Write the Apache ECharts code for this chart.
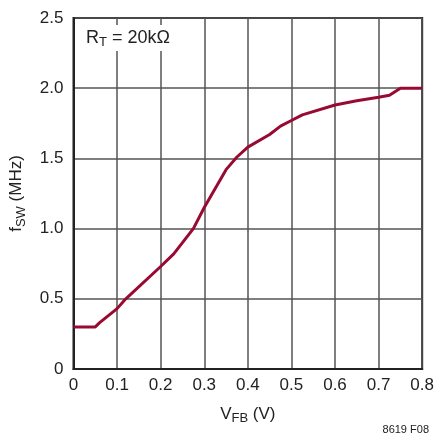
<!DOCTYPE html>
<html>
<head>
<meta charset="utf-8">
<script src="https://cdn.jsdelivr.net/npm/echarts@6/dist/echarts.min.js"></script>
<style>
  html, body { margin: 0; padding: 0; background: #fff; }
  #chart { width: 437px; height: 436px; }
</style>
</head>
<body>
<div id="chart"></div>
<script>
// VFB (V) vs fSW (MHz), RT = 20k
var vfb = [0, 0.05, 0.06, 0.1, 0.12, 0.2, 0.23, 0.275, 0.3, 0.35, 0.375, 0.4, 0.45, 0.475, 0.5, 0.525, 0.6, 0.65, 0.7, 0.725, 0.75, 0.8];
var fsw = [0.3, 0.3, 0.33, 0.43, 0.5, 0.73, 0.82, 1.0, 1.15, 1.42, 1.51, 1.58, 1.67, 1.73, 1.77, 1.81, 1.88, 1.91, 1.935, 1.95, 2.0, 2.0];
var xTicks = ["0", "0.1", "0.2", "0.3", "0.4", "0.5", "0.6", "0.7", "0.8"];
var yTicks = ["0", "0.5", "1.0", "1.5", "2.0", "2.5"];

var font = "Liberation Sans Narrow, Liberation Sans, sans-serif";
var txt = "#222";

var pts = vfb.map(function (v, i) { return [v, fsw[i]]; });

var myChart = echarts.init(document.getElementById("chart"));
var option = {
  animation: false,
  textStyle: { fontFamily: font },
  grid: {
    left: 72,
    top: 18,
    right: 14,
    bottom: 67,
    show: true,
    borderColor: "#222",
    borderWidth: 2,
  },
  xAxis: {
    type: "value",
    min: 0,
    max: 0.8,
    interval: 0.1,
    name: "{a|V}{s|FB}{a| (V)}",
    nameLocation: "middle",
    nameGap: 34,
    nameTextStyle: {
      rich: {
        a: { fontFamily: font, fontSize: 17, color: txt },
        s: { fontFamily: font, fontSize: 13, color: txt, padding: [9, 0, 0, 0] },
      },
    },
    axisLine: { lineStyle: { color: "#222", width: 2 } },
    axisTick: { show: false },
    axisLabel: {
      color: txt,
      fontSize: 17,
      margin: 8,
      formatter: function (v) { return xTicks[Math.round(v * 10)]; },
    },
    splitLine: { show: true, lineStyle: { color: "#555", width: 1.5 } },
  },
  yAxis: {
    type: "value",
    min: 0,
    max: 2.5,
    interval: 0.5,
    name: "{a|f}{s|SW}{a| (MHz)}",
    nameLocation: "middle",
    nameGap: 46,
    nameTextStyle: {
      rich: {
        a: { fontFamily: font, fontSize: 17, color: txt },
        s: { fontFamily: font, fontSize: 13, color: txt, padding: [9, 0, 0, 0] },
      },
    },
    axisLine: { lineStyle: { color: "#222", width: 2 } },
    axisTick: { show: false },
    axisLabel: {
      color: txt,
      fontSize: 17,
      margin: 10,
      formatter: function (v) { return yTicks[Math.round(v * 2)]; },
    },
    splitLine: { show: true, lineStyle: { color: "#555", width: 1.5 } },
  },
  series: [
    {
      type: "line",
      data: pts,
      symbol: "none",
      lineStyle: { color: "#990a33", width: 3 },
    },
  ],
  graphic: [
    {
      type: "text",
      left: 84,
      top: 25,
      z: 100,
      style: {
        text: "{a|R}{s|T}{a| = 20kΩ}",
        backgroundColor: "#fff",
        padding: [2, 2, 2, 2],
        rich: {
          a: { fontFamily: font, fontSize: 18, fill: txt },
          s: { fontFamily: font, fontSize: 13, fill: txt, padding: [9, 0, 0, 0] },
        },
      },
    },
    {
      type: "text",
      right: 8,
      top: 424,
      style: { text: "8619 F08", fontFamily: font, fontSize: 11, fill: txt },
    },
  ],
};
myChart.setOption(option);
</script>
</body>
</html>
